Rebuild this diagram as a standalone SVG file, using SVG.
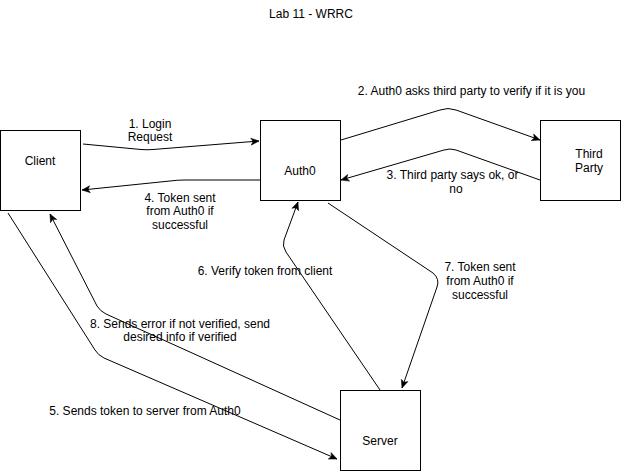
<svg xmlns="http://www.w3.org/2000/svg" width="621" height="471" viewBox="0 0 621 471">
<defs>
<style>
.box{fill:#fff;stroke:#000;stroke-width:1}
.t{font-family:"Liberation Sans",Arial,Helvetica,sans-serif;font-size:12px;fill:#000;text-anchor:middle}
.e{fill:none;stroke:#000;stroke-width:1;marker-end:url(#arr)}
</style>
<marker id="arr" viewBox="-9 -5 10 10" refX="0" refY="0" markerWidth="10" markerHeight="10" markerUnits="userSpaceOnUse" orient="auto">
<path d="M-8,-3.5 L0,0 L-8,3.5 L-6,0 Z" fill="#000" stroke="#000" stroke-width="0.5"/>
</marker>
</defs>
<rect width="621" height="471" fill="#fff"/>
<text class="t" x="311" y="18">Lab 11 - WRRC</text>
<g id="client"><rect class="box" x="0.5" y="130.5" width="80" height="80"/><text class="t" x="40" y="165">Client</text></g>
<g id="auth0"><rect class="box" x="260.5" y="120.5" width="80" height="80"/><text class="t" x="300" y="175">Auth0</text></g>
<g id="thirdparty"><rect class="box" x="540.5" y="120.5" width="80" height="80"/><text class="t" x="589" y="158">Third</text><text class="t" x="589" y="172">Party</text></g>
<g id="server"><rect class="box" x="340.5" y="390.5" width="80" height="80"/><text class="t" x="380" y="445">Server</text></g>
<g id="connectors">
<path class="e" d="M83,144 L141,149.5 Q147,150 153,149.5 L259,141"/>
<path class="e" d="M341,140 L440,110 Q448,107 456,110 L540,140"/>
<path class="e" d="M540,180 L456,150 Q450,148 444,150 L341,180"/>
<path class="e" d="M260,180 L185,180 Q177,180 170,181 L82,190"/>
<path class="e" d="M8,213 L95,350 Q98,355 104,358 L337,459"/>
<path class="e" d="M380,390 L286,252 Q282,246 284,240 L298,202"/>
<path class="e" d="M328,203 L433,273 Q440,279 437,287 L402,388"/>
<path class="e" d="M340,420 L106,314 Q100,311 97,306 L50,214"/>
</g>
<g id="labels">
<text class="t" x="150" y="128">1. Login</text>
<text class="t" x="150" y="141">Request</text>
<text class="t" x="471.5" y="95">2. Auth0 asks third party to verify if it is you</text>
<text class="t" x="452.5" y="179">3. Third party says ok, or</text>
<text class="t" x="456" y="193">no</text>
<text class="t" x="180" y="202">4. Token sent</text>
<text class="t" x="180" y="215">from Auth0 if</text>
<text class="t" x="180" y="229">successful</text>
<text class="t" x="145" y="415">5. Sends token to server from Auth0</text>
<text class="t" x="265" y="275">6. Verify token from client</text>
<text class="t" x="480" y="271">7. Token sent</text>
<text class="t" x="480" y="285">from Auth0 if</text>
<text class="t" x="480" y="299">successful</text>
<text class="t" x="180" y="328">8. Sends error if not verified, send</text>
<text class="t" x="180" y="341">desired info if verified</text>
</g>
</svg>
